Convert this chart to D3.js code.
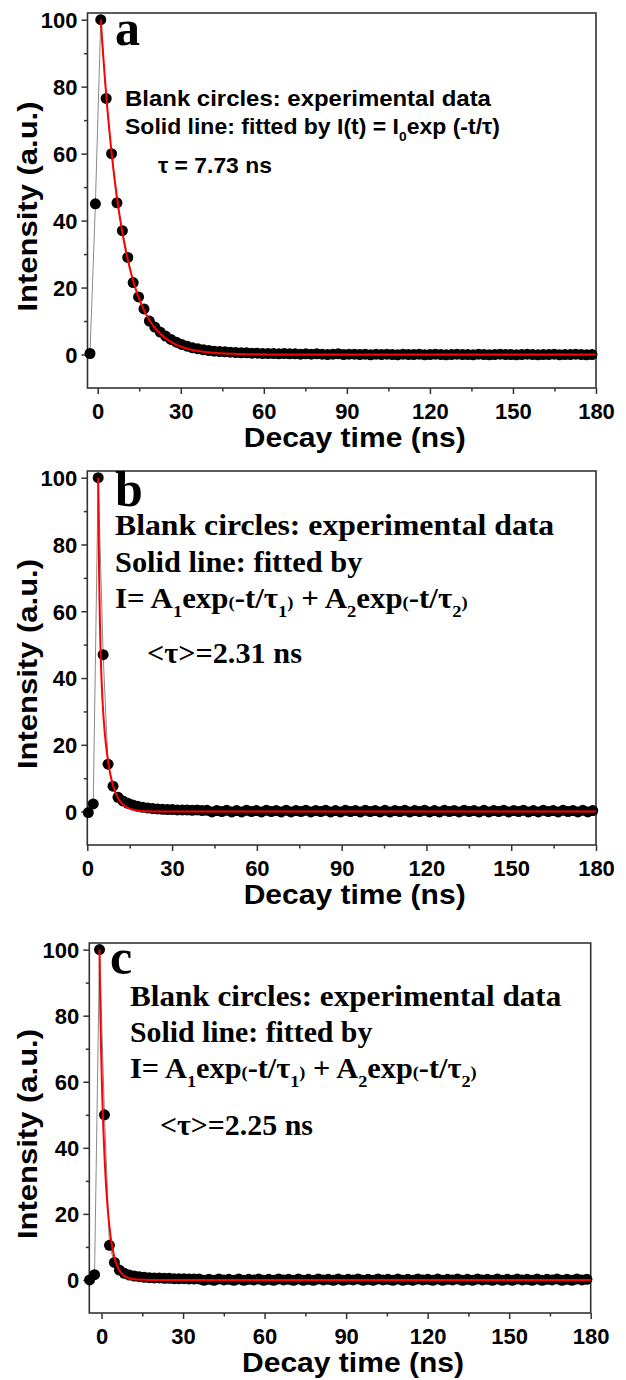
<!DOCTYPE html>
<html>
<head>
<meta charset="utf-8">
<script src="https://cdn.jsdelivr.net/npm/d3@7"></script>
<style>
  body { margin: 0; background: #fff; }
  svg { display: block; }
  text { white-space: pre; }
</style>
</head>
<body>
<svg id="fig" width="626" height="1380"></svg>
<script>
// ---- axis ticks ----
const xTicks = [0, 30, 60, 90, 120, 150, 180];
const xMinorTicks = [15, 45, 75, 105, 135, 165];
const yTicks = [0, 20, 40, 60, 80, 100];
const yMinorTicks = [10, 30, 50, 70, 90];

// ---- panel a: decay histogram (channel start, channel width in ns, counts normalised to 100) ----
const timeStartA = -2.8;
const timeStepA = 1.95;
const intensityA = [
  0.3, 45, 100, 76.5, 60, 45.3, 37, 29, 21.5, 17.2, 13.6, 10,
  8.2, 6.7, 5.5, 4.5, 3.7, 3.0, 2.5, 2.0, 1.7, 1.4, 1.2, 1.0, 0.9, 0.8, 0.7,
  0.6, 0.5, 0.5, 0.4, 0.4, 0.3, 0.3, 0.3, 0.2, 0.3,
  0.2, 0.2, 0.1, 0.2, 0.1, 0.2, 0.1, 0.0, 0.1, 0.2,
  0.0, 0.1, 0.1, 0.0, 0.1, -0.1, 0.1, 0.0, 0.1, 0.0,
  -0.1, 0.1, 0.0, 0.0, 0.1, -0.1, 0.0, 0.1, 0.0, -0.1,
  0.0, 0.1, 0.0, 0.0, -0.1, 0.1, 0.0, -0.1, 0.0, 0.1,
  0.0, 0.0, -0.1, 0.0, 0.1, 0.0, -0.1, 0.0, 0.0, 0.1,
  -0.1, 0.0, 0.0, 0.1, 0.0, -0.1, 0.0
];
const fitStartA = 1.1;
const fitAmpA = [100];
const fitTauA = [7.73];

// ---- panel b ----
const timeStartB = 0.35;
const timeStepB = 1.75;
const intensityB = [
  -0.3, 2.3, 100, 47, 14.2, 7.6, 4.3, 3.2, 2.5, 2.0, 1.6, 1.3, 1.1, 0.9,
  0.8, 0.7, 0.6, 0.6, 0.5, 0.5, 0.5, 0.4, 0.5, 0.3,
  0.4, -0.1, 0.3, 0.0, 0.4, -0.1, 0.3, -0.1, 0.4, 0.0,
  0.3, -0.1, 0.4, 0.0, 0.3, -0.1, 0.4, -0.1, 0.3, 0.0,
  0.4, -0.1, 0.3, 0.0, 0.4, -0.1, 0.3, -0.1, 0.4, 0.0,
  0.3, -0.1, 0.4, 0.0, 0.3, -0.1, 0.4, -0.1, 0.3, 0.0,
  0.4, -0.1, 0.3, 0.0, 0.4, -0.1, 0.3, -0.1, 0.4, 0.0,
  0.3, -0.1, 0.4, 0.0, 0.3, -0.1, 0.4, -0.1, 0.3, 0.0,
  0.4, -0.1, 0.3, 0.0, 0.4, -0.1, 0.3, -0.1, 0.4, 0.0,
  0.3, -0.1, 0.4, 0.0, 0.3, -0.1, 0.4, -0.1, 0.3
];
const fitStartB = 3.85;
const fitAmpB = [45, 55];
const fitTauB = [0.5, 2.7];
const avgTauB = 2.31;

// ---- panel c ----
const timeStartC = -4.4;
const timeStepC = 1.83;
const intensityC = [
  0.0, 1.6, 100, 50, 10.5, 5.3, 3.0, 2.0, 1.5, 1.2, 1.0, 0.8,
  0.7, 0.6, 0.6, 0.5, 0.5, 0.4, 0.4, 0.4, 0.3, 0.3,
  0.3, -0.1, 0.2, -0.1, 0.3, 0.0, 0.2, -0.1, 0.3, -0.1,
  0.2, 0.0, 0.3, -0.1, 0.2, -0.1, 0.3, 0.0, 0.2, -0.1,
  0.3, -0.1, 0.2, -0.1, 0.3, 0.0, 0.2, -0.1, 0.3, -0.1,
  0.2, 0.0, 0.3, -0.1, 0.2, -0.1, 0.3, 0.0, 0.2, -0.1,
  0.3, -0.1, 0.2, -0.1, 0.3, 0.0, 0.2, -0.1, 0.3, -0.1,
  0.2, 0.0, 0.3, -0.1, 0.2, -0.1, 0.3, 0.0, 0.2, -0.1,
  0.3, -0.1, 0.2, -0.1, 0.3, 0.0, 0.2, -0.1, 0.3, -0.1,
  0.2, 0.0, 0.3, -0.1, 0.2, -0.1, 0.3, 0.0, 0.2
];
const fitStartC = -0.74;
const fitAmpC = [12, 88];
const fitTauC = [0.4, 2.15];
const avgTauC = 2.25;

// ---- helpers ----
const SANS = "'Liberation Sans', Arial, sans-serif";
const SERIF = "'Liberation Serif', 'Times New Roman', serif";

function toPoints(start, step, values) {
  return values.map((v, i) => ({ t: start + i * step, v }));
}

// multi-exponential fit model sampled along the time axis
function fitCurve(t0, amps, taus, tEnd) {
  const pts = [];
  for (let t = t0; t <= tEnd + 1e-9; t += 0.05) {
    let s = 0;
    amps.forEach((a, k) => { s += a * Math.exp(-(t - t0) / taus[k]); });
    pts.push({ t, v: s });
  }
  return pts;
}

// rich text: segments [string, kind] where kind = "n" | "sub" | "sm"
function richText(parent, segs, fontSize, family) {
  const t = parent.append("text")
    .attr("font-family", family)
    .attr("font-weight", "bold")
    .attr("font-size", fontSize)
    .attr("fill", "#000");
  let shift = 0;
  segs.forEach(([str, kind]) => {
    const target = kind === "sub" ? fontSize * 0.32 : 0;
    const sp = t.append("tspan").text(str).attr("dy", target - shift);
    shift = target;
    if (kind === "sub" || kind === "sm") sp.attr("font-size", fontSize * 0.6);
  });
  return t;
}

// place a text line with its left baseline at (x, y) spanning the given width
function placeLine(parent, x, y, width, segs, fontSize, family) {
  const g = parent.append("g");
  const t = richText(g, segs, fontSize, family);
  const w = t.node().getBBox().width;
  const sx = width ? width / w : 1;
  g.attr("transform", `translate(${x},${y}) scale(${sx},1)`);
  return g;
}

const svg = d3.select("#fig");

function drawPanel(cfg) {
  const x = d3.scaleLinear().domain(cfg.xDomain).range([cfg.left, cfg.right]);
  const y = d3.scaleLinear().domain([-10, 102]).range([cfg.bottom, cfg.top]);
  const g = svg.append("g");

  // axes (ticks outward on bottom and left)
  const axisColor = "#333";
  const xAxis = g.append("g").attr("transform", `translate(0,${cfg.bottom})`)
    .call(d3.axisBottom(x).tickValues(xTicks).tickSize(6).tickSizeOuter(0));
  const xMinor = g.append("g").attr("transform", `translate(0,${cfg.bottom})`)
    .call(d3.axisBottom(x).tickValues(xMinorTicks).tickSize(3.5).tickSizeOuter(0).tickFormat(""));
  const yAxis = g.append("g").attr("transform", `translate(${cfg.left},0)`)
    .call(d3.axisLeft(y).tickValues(yTicks).tickSize(6).tickSizeOuter(0));
  const yMinor = g.append("g").attr("transform", `translate(${cfg.left},0)`)
    .call(d3.axisLeft(y).tickValues(yMinorTicks).tickSize(3.5).tickSizeOuter(0).tickFormat(""));
  [xAxis, xMinor, yAxis, yMinor].forEach(a => {
    a.select(".domain").remove();
    a.selectAll(".tick line").attr("stroke", axisColor).attr("stroke-width", 1.5);
  });
  xAxis.selectAll(".tick text")
    .attr("y", 31).attr("dy", 0)
    .attr("font-family", SANS).attr("font-weight", "bold").attr("font-size", 22).attr("fill", "#000");
  yAxis.selectAll(".tick text")
    .attr("x", -10).attr("dy", "0.36em")
    .attr("font-family", SANS).attr("font-weight", "bold").attr("font-size", 22).attr("fill", "#000");

  // frame
  g.append("rect")
    .attr("x", cfg.left).attr("y", cfg.top)
    .attr("width", cfg.right - cfg.left).attr("height", cfg.bottom - cfg.top)
    .attr("fill", "none").attr("stroke", axisColor).attr("stroke-width", 1.6);

  // axis titles
  g.append("text")
    .attr("x", (cfg.left + cfg.right) / 2 + 13).attr("y", cfg.bottom + 59)
    .attr("text-anchor", "middle")
    .attr("font-family", SANS).attr("font-weight", "bold").attr("font-size", 27)
    .attr("textLength", 222).attr("lengthAdjust", "spacingAndGlyphs")
    .text("Decay time (ns)");
  g.append("text")
    .attr("transform", `translate(37,${(cfg.top + cfg.bottom) / 2 + 6}) rotate(-90)`)
    .attr("text-anchor", "middle")
    .attr("font-family", SANS).attr("font-weight", "bold").attr("font-size", 27)
    .attr("textLength", 210).attr("lengthAdjust", "spacingAndGlyphs")
    .text("Intensity (a.u.)");

  // data: connecting line, symbols, fitted curve
  const pts = toPoints(cfg.start, cfg.step, cfg.values);
  const line = d3.line().x(d => x(d.t)).y(d => y(d.v));
  g.append("path").datum(pts).attr("d", line)
    .attr("fill", "none").attr("stroke", "#8a8a8a").attr("stroke-width", 1);
  g.append("g").selectAll("circle").data(pts).join("circle")
    .attr("cx", d => x(d.t)).attr("cy", d => y(d.v)).attr("r", 5.5).attr("fill", "#000");
  const fit = fitCurve(cfg.fitStart, cfg.fitAmp, cfg.fitTau, 180);
  g.append("path").datum(fit).attr("d", line)
    .attr("fill", "none").attr("stroke", "#ff0000").attr("stroke-width", 2);

  // panel letter
  g.append("text")
    .attr("x", cfg.letterPos[0]).attr("y", cfg.letterPos[1])
    .attr("font-family", SERIF).attr("font-weight", "bold").attr("font-size", 50)
    .text(cfg.letter);

  // annotation lines
  cfg.notes.forEach(n => placeLine(g, n.x, n.y, n.w, n.segs, n.size, n.family));
}

drawPanel({
  letter: "a", letterPos: [115, 45],
  left: 87.5, right: 596, top: 13, bottom: 388, xDomain: [-3.7, 180],
  start: timeStartA, step: timeStepA, values: intensityA,
  fitStart: fitStartA, fitAmp: fitAmpA, fitTau: fitTauA,
  notes: [
    { x: 125, y: 106, w: 367, size: 22, family: SANS,
      segs: [["Blank circles: experimental data", "n"]] },
    { x: 125, y: 134, w: 375, size: 22, family: SANS,
      segs: [["Solid line: fitted by I(t) = I", "n"], ["0", "sub"], ["exp (-t/τ)", "n"]] },
    { x: 158, y: 173, w: 114, size: 22, family: SANS,
      segs: [[`τ = ${fitTauA[0].toFixed(2)} ns`, "n"]] }
  ]
});

const biexpSegs = [
  ["I= A", "n"], ["1", "sub"], ["exp", "n"], ["(", "sm"], ["-t/τ", "n"], ["1", "sub"], [")", "sm"],
  [" + A", "n"], ["2", "sub"], ["exp", "n"], ["(", "sm"], ["-t/τ", "n"], ["2", "sub"], [")", "sm"]
];

drawPanel({
  letter: "b", letterPos: [115, 506],
  left: 87.3, right: 596, top: 471, bottom: 845, xDomain: [0, 180],
  start: timeStartB, step: timeStepB, values: intensityB,
  fitStart: fitStartB, fitAmp: fitAmpB, fitTau: fitTauB,
  notes: [
    { x: 115, y: 535, w: 440, size: 29, family: SERIF,
      segs: [["Blank circles: experimental data", "n"]] },
    { x: 115, y: 572, w: 248, size: 29, family: SERIF,
      segs: [["Solid line: fitted by", "n"]] },
    { x: 115, y: 608, w: 353, size: 29, family: SERIF, segs: biexpSegs },
    { x: 147, y: 663, w: 155, size: 29, family: SERIF,
      segs: [[`<τ>=${avgTauB.toFixed(2)} ns`, "n"]] }
  ]
});

drawPanel({
  letter: "c", letterPos: [110, 974],
  left: 89.3, right: 590.7, top: 943, bottom: 1313, xDomain: [-4.5, 180],
  start: timeStartC, step: timeStepC, values: intensityC,
  fitStart: fitStartC, fitAmp: fitAmpC, fitTau: fitTauC,
  notes: [
    { x: 130, y: 1006, w: 432, size: 29, family: SERIF,
      segs: [["Blank circles: experimental data", "n"]] },
    { x: 130, y: 1042, w: 243, size: 29, family: SERIF,
      segs: [["Solid line: fitted by", "n"]] },
    { x: 130, y: 1078, w: 347, size: 29, family: SERIF, segs: biexpSegs },
    { x: 160, y: 1135, w: 153, size: 29, family: SERIF,
      segs: [[`<τ>=${avgTauC.toFixed(2)} ns`, "n"]] }
  ]
});
</script>
</body>
</html>
